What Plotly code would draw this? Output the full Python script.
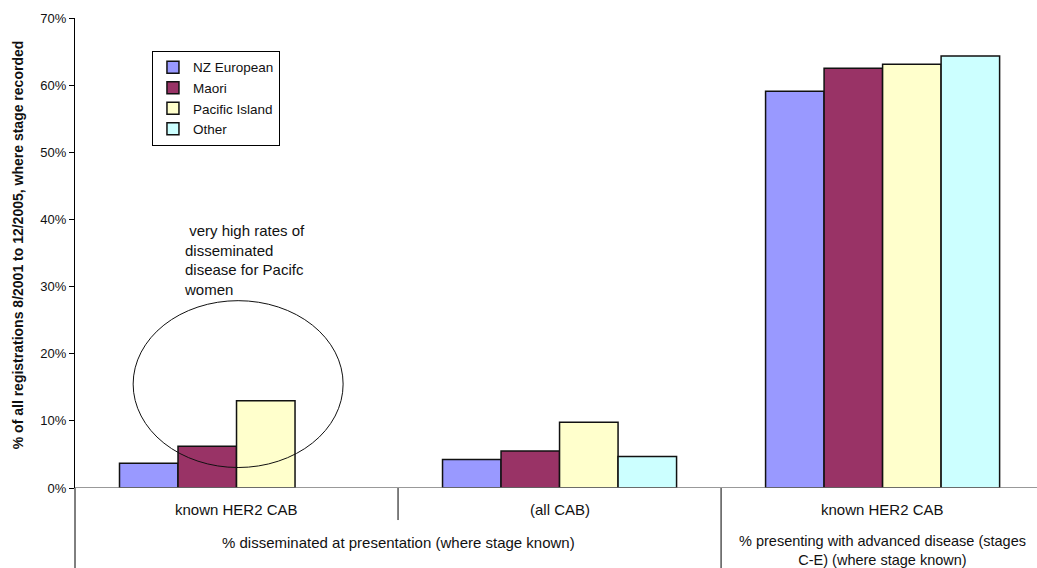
import plotly.graph_objects as go

categories = ["known HER2 CAB", "(all CAB)", "known HER2 CAB"]
groups = ["% disseminated at presentation (where stage known)",
          "% presenting with advanced disease (stages<br>C-E) (where stage known)"]
series_names = ["NZ European", "Maori", "Pacific Island", "Other"]
nz_european = [3.7, 4.25, 59.1]
maori = [6.2, 5.5, 62.5]
pacific_island = [13.0, 9.8, 63.1]
other = [None, 4.7, 64.35]
colors = ["#9999FF", "#993366", "#FFFFCC", "#CCFFFF"]
y_ticks = [0, 10, 20, 30, 40, 50, 60, 70]

FONT = "Liberation Sans, Arial, sans-serif"
xs = [0, 1, 2]

fig = go.Figure()
for name, vals, col in zip(series_names, [nz_european, maori, pacific_island, other], colors):
    fig.add_trace(go.Bar(x=xs, y=vals, name=name, marker=dict(color=col, line=dict(color="#111111", width=1.5))))

fig.update_layout(
    width=1037, height=568,
    margin=dict(l=75, r=0, t=18, b=80),
    paper_bgcolor="white", plot_bgcolor="white",
    barmode="group", bargap=0.2755, bargroupgap=0,
    font=dict(family=FONT, size=13, color="#111111"),
    showlegend=True,
    legend=dict(x=0.08, y=0.93, xanchor="left", yanchor="top",
                bordercolor="#000000", borderwidth=1, bgcolor="white",
                font=dict(size=13.5, family=FONT), itemwidth=30, tracegroupgap=0),
    xaxis=dict(range=[-0.5, 2.478], showticklabels=False, showgrid=False, zeroline=False,
               showline=False, ticks=""),
    yaxis=dict(range=[0, 70], tickvals=y_ticks, ticktext=[f"{v}%" for v in y_ticks],
               showgrid=False, zeroline=False, showline=True, linecolor="#000000", linewidth=1,
               ticks="outside", ticklen=5, tickcolor="#000000", tickfont=dict(size=13, family=FONT)),
)

# baseline and category dividers
fig.add_shape(type="line", xref="paper", yref="y", x0=0, x1=1, y0=0, y1=0, line=dict(color="#777777", width=1.5))
fig.add_shape(type="line", xref="paper", yref="paper", x0=0, x1=0, y0=0, y1=-80/469.5, line=dict(color="#000000", width=1))
fig.add_shape(type="line", xref="x", yref="paper", x0=0.5, x1=0.5, y0=0, y1=-32/469.5, line=dict(color="#000000", width=1))
fig.add_shape(type="line", xref="x", yref="paper", x0=1.5, x1=1.5, y0=0, y1=-80/469.5, line=dict(color="#000000", width=1))

for x, lab in zip(xs, categories):
    fig.add_annotation(x=x, xref="x", y=0, yref="paper", text=lab, showarrow=False,
                       yanchor="middle", yshift=-21, font=dict(size=15, family=FONT))
fig.add_annotation(x=0.5, xref="x", y=0, yref="paper", text=groups[0], showarrow=False,
                   yanchor="middle", yshift=-54, font=dict(size=15, family=FONT))
fig.add_annotation(x=2, xref="x", y=0, yref="paper", text=groups[1], showarrow=False,
                   yanchor="top", yshift=-43, font=dict(size=14.5, family=FONT))

# y title
fig.add_annotation(x=-57/962, xref="paper", y=(487.5-245)/469.5, yref="paper", textangle=-90,
                   text="<b>% of all registrations 8/2001 to 12/2005, where stage recorded</b>",
                   showarrow=False, xanchor="center", yanchor="middle", font=dict(size=14, family=FONT))

# callout ellipse and text
fig.add_shape(type="circle", xref="x", yref="y", x0=-0.32, x1=0.33, y0=3.05, y1=27.9,
              line=dict(color="#111111", width=1))
fig.add_annotation(x=(182-75)/962, xref="paper", y=(487.5-220)/469.5, yref="paper",
                   text=" very high rates of<br>disseminated<br>disease for Pacifc<br>women",
                   align="left", showarrow=False, xanchor="left", yanchor="top",
                   font=dict(size=15, family=FONT))

fig.write_html("out.html")
